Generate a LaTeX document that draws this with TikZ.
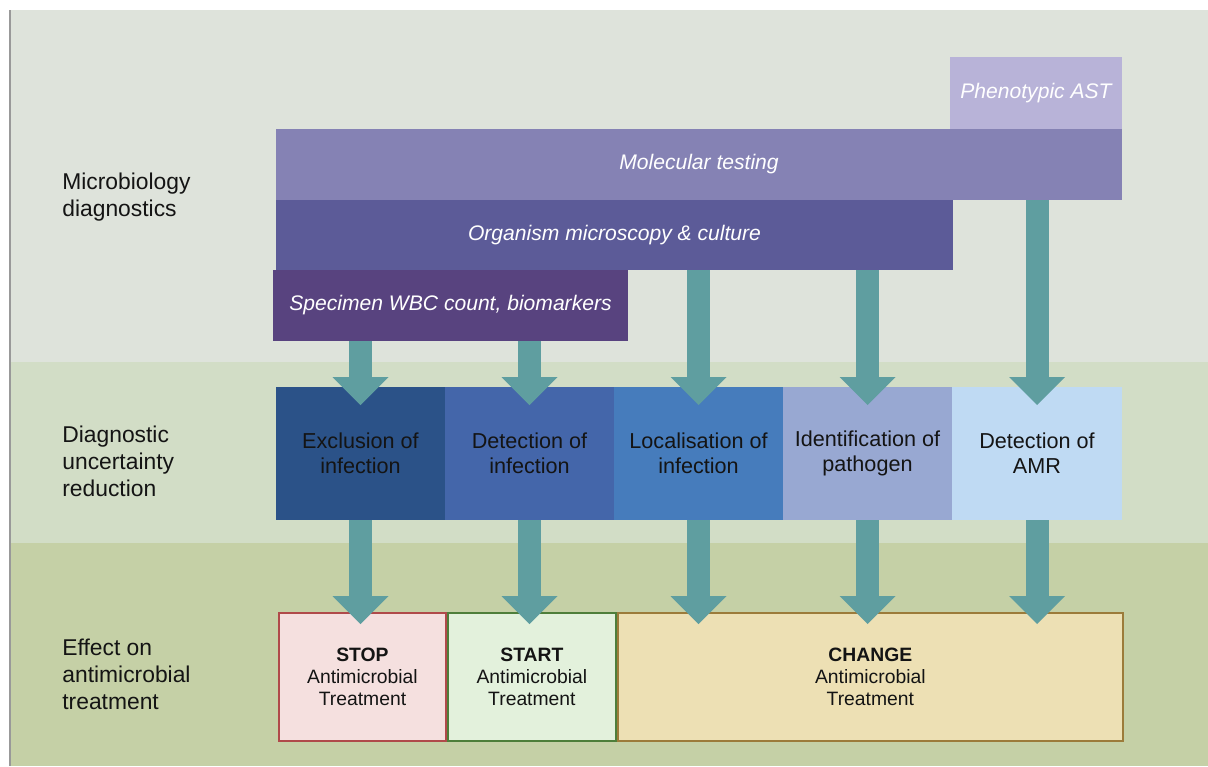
\documentclass[tikz,border=0pt]{standalone}
\usepackage{fontspec}
\setmainfont{Liberation Sans}
\usetikzlibrary{arrows.meta,positioning}

\definecolor{bandtop}{HTML}{DEE3DB}
\definecolor{bandmid}{HTML}{D2DDC6}
\definecolor{bandlow}{HTML}{C5D0A6}
\definecolor{astcol}{HTML}{B8B3D8}
\definecolor{molcol}{HTML}{8582B4}
\definecolor{orgcol}{HTML}{5C5B98}
\definecolor{speccol}{HTML}{58437F}
\definecolor{uncA}{HTML}{2B5288}
\definecolor{uncB}{HTML}{4466AA}
\definecolor{uncC}{HTML}{467CBC}
\definecolor{uncD}{HTML}{98A8D2}
\definecolor{uncE}{HTML}{BFDAF3}
\definecolor{stopfill}{HTML}{F5E0DF}
\definecolor{stopline}{HTML}{B04A4A}
\definecolor{startfill}{HTML}{E3F1DC}
\definecolor{startline}{HTML}{4E7E3A}
\definecolor{changefill}{HTML}{EDE0B4}
\definecolor{changeline}{HTML}{9C7B3A}
\definecolor{arrowcol}{HTML}{5F9EA0}

\begin{document}
\begin{tikzpicture}[
    rowlabel/.style={anchor=west, align=left, inner sep=0pt, text=black!92,
        font=\fontsize{13}{15.4}\selectfont},
    testbox/.style={anchor=north west, inner sep=0pt, outer sep=0pt, minimum height=1.42cm,
        text=white, font=\itshape\fontsize{12}{14}\selectfont},
    uncbox/.style={inner sep=0pt, outer sep=0pt, minimum width=3.38cm, minimum height=2.66cm,
        align=center, text=black!92, font=\fontsize{12.3}{14.2}\selectfont},
    effbox/.style={inner sep=0pt, minimum height=2.56cm, line width=1.1pt,
        align=center, text=black!92, font=\fontsize{11}{12.5}\selectfont},
    fatarrow/.style={arrowcol, line width=0.46cm,
        -{Triangle[width=1.12cm 0 0, length=0.56cm 0 0, line width=0pt]}}
]
    \useasboundingbox (0,0) rectangle (24.16,-15.32);
    \fill[white] (0,0) rectangle (24.16,-15.32);

    % bands
    \fill[bandtop] (0.2,-0.2) rectangle (24.16,-7.24);
    \fill[bandmid] (0.2,-7.24) rectangle (24.16,-10.86);
    \fill[bandlow] (0.2,-10.86) rectangle (24.16,-15.32);
    \draw[gray!80, line width=0.6pt] (0.2,-0.2) -- (0.2,-15.32);

    \node[rowlabel] (lmicro) at (1.24,-3.94) {Microbiology\\diagnostics};
    \node[rowlabel] (lunc) at (1.24,-9.22) {Diagnostic\\uncertainty\\reduction};
    \node[rowlabel] (leff) at (1.24,-13.48) {Effect on\\antimicrobial\\treatment};

    % microbiology tests
    \node[testbox, fill=astcol, minimum width=3.44cm, minimum height=1.44cm] (ast) at (19.0,-1.14) {Phenotypic AST};
    \node[testbox, fill=molcol, minimum width=16.92cm] (mol) at (5.52,-2.58) {Molecular testing};
    \node[testbox, fill=orgcol, minimum width=13.54cm, minimum height=1.40cm] (org) at (5.52,-4.0) {Organism microscopy \& culture};
    \node[testbox, fill=speccol, minimum width=7.10cm] (spec) at (5.46,-5.40) {Specimen WBC count, biomarkers};

    % uncertainty reduction
    \node[uncbox, fill=uncA, anchor=north west] (excl) at (5.52,-7.74) {Exclusion of\\infection};
    \node[uncbox, fill=uncB, right=0pt of excl] (detinf) {Detection of\\infection};
    \node[uncbox, fill=uncC, right=0pt of detinf] (loc) {Localisation of\\infection};
    \node[uncbox, fill=uncD, right=0pt of loc] (ident) {Identification of\\pathogen};
    \node[uncbox, fill=uncE, right=0pt of ident, minimum width=3.40cm] (amr) {Detection of\\AMR};

    % effect on treatment
    \node[effbox, fill=stopfill, draw=stopline, minimum width=3.34cm, anchor=north west] (stop) at (5.56,-12.24) {\textbf{STOP}\\Antimicrobial\\Treatment};
    \node[effbox, fill=startfill, draw=startline, minimum width=3.36cm, right=0pt of stop] (start) {\textbf{START}\\Antimicrobial\\Treatment};
    \node[effbox, fill=changefill, draw=changeline, minimum width=10.10cm, right=0pt of start] (change) {\textbf{CHANGE}\\Antimicrobial\\Treatment};

    \foreach \src/\dst in {spec/excl, spec/detinf, org/loc, org/ident, mol/amr}
        \draw[fatarrow] (\src.south -| \dst.north) -- ([yshift=-0.36cm]\dst.north);
    \foreach \src/\dst in {excl/stop, detinf/start, loc/change, ident/change, amr/change}
        \draw[fatarrow] (\src.south) -- ([yshift=-0.24cm]\src.south |- \dst.north);
\end{tikzpicture}
\end{document}
